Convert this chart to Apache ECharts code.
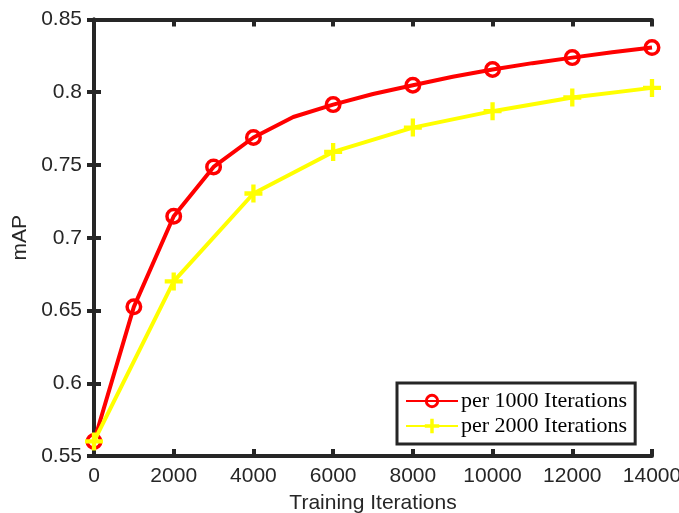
<!DOCTYPE html>
<html>
<head>
<meta charset="utf-8">
<script src="https://cdn.jsdelivr.net/npm/echarts@6/dist/echarts.min.js"></script>
<style>html,body{margin:0;padding:0;background:#fff;}#c{width:679px;height:513px;}</style>
</head>
<body>
<div id="c"></div>
<script>
// ---- data ----
var itersRed = [0,1000,2000,3000,4000,5000,6000,7000,8000,9000,10000,11000,12000,13000,14000];
var mapRed = [0.560,0.6525,0.7148,0.7487,0.7689,0.7830,0.7915,0.7988,0.8048,0.8106,0.8156,0.8200,0.8238,0.8275,0.8307];
var redMarkedIters = [0,1000,2000,3000,4000,6000,8000,10000,12000,14000];
var itersYellow = [0,2000,4000,6000,8000,10000,12000,14000];
var mapYellow = [0.560,0.6700,0.7304,0.7590,0.7757,0.7870,0.7964,0.8030];
var seriesNames = ['per 1000 Iterations','per 2000 Iterations'];
var xTitle = 'Training Iterations';
var yTitle = 'mAP';

var ringPath = 'path://M0,-10A10,10 0 1,1 0,10A10,10 0 1,1 0,-10ZM0,-5.9A5.9,5.9 0 1,0 0,5.9A5.9,5.9 0 1,0 0,-5.9Z';
var plusPath = 'path://M-2.4,-10H2.4V-2.4H10V2.4H2.4V10H-2.4V2.4H-10V-2.4H-2.4Z';

var redData = itersRed.map(function(x,i){
  return {value:[x,mapRed[i]], symbol: redMarkedIters.indexOf(x) >= 0 ? ringPath : 'none'};
});
var yellowData = itersYellow.map(function(x,i){ return [x,mapYellow[i]]; });

var axisCol = '#262626';
var sans = '"Liberation Sans", Arial, Helvetica, sans-serif';
function xAx(pos, show){
  return {type:'value', position:pos, min:0, max:14000, interval:2000,
    axisLine:{show:true,lineStyle:{color:axisCol,width:4}},
    axisTick:{show:true,inside:true,length:7,lineStyle:{color:axisCol,width:4}},
    axisLabel:{show:show,color:axisCol,fontFamily:sans,fontSize:21,margin:10,
      formatter:function(v){return String(v);}},
    splitLine:{show:false},
    name: show ? xTitle : '', nameLocation:'middle', nameGap:37,
    nameTextStyle:{color:axisCol,fontFamily:sans,fontSize:21}};
}
function yAx(pos, show){
  return {type:'value', position:pos, min:0.55, max:0.85, interval:0.05,
    axisLine:{show:true,lineStyle:{color:axisCol,width:4}},
    axisTick:{show:true,inside:true,length:7,lineStyle:{color:axisCol,width:4}},
    axisLabel:{show:show,color:axisCol,fontFamily:sans,fontSize:21,margin:12,
      formatter:function(v){return String(+v.toFixed(2));}},
    splitLine:{show:false},
    name: show ? yTitle : '', nameLocation:'middle', nameGap:59,
    nameTextStyle:{color:axisCol,fontFamily:sans,fontSize:21}};
}

var chart = echarts.init(document.getElementById('c'), null, {renderer:'canvas'});
chart.setOption({
  backgroundColor:'#fff',
  animation:false,
  grid:{left:94, right:27, top:19.5, bottom:57, containLabel:false, outerBoundsMode:'none'},
  xAxis:[xAx('bottom',true), xAx('top',false)],
  yAxis:[yAx('left',true), yAx('right',false)],
  legend:{
    orient:'vertical', left:397, top:383,
    backgroundColor:'#fff', borderColor:axisCol, borderWidth:3,
    padding:[7,8,7,8], itemGap:3, itemWidth:52, itemHeight:18,
    textStyle:{fontFamily:'"Liberation Serif","Times New Roman",serif',fontSize:22,color:'#000',padding:[0,0,0,-2]},
    data:seriesNames
  },
  series:[
    {name:seriesNames[0], type:'line', data:redData, symbol:ringPath, symbolSize:17,
     lineStyle:{color:'#ff0000',width:4}, itemStyle:{color:'#ff0000'}, z:2},
    {name:seriesNames[1], type:'line', data:yellowData, symbol:plusPath, symbolSize:18,
     lineStyle:{color:'#ffff00',width:4}, itemStyle:{color:'#ffff00'}, z:3}
  ]
});
</script>
</body>
</html>
